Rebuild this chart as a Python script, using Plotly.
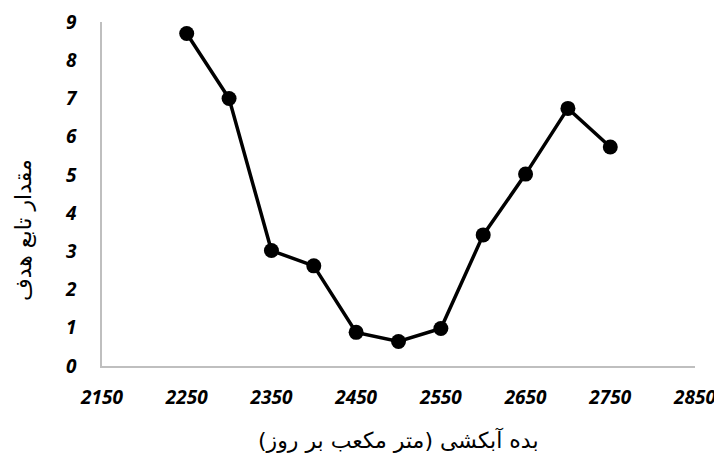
import plotly.graph_objects as go

flow = [2250, 2300, 2350, 2400, 2450, 2500, 2550, 2600, 2650, 2700, 2750]
objective = [8.70, 7.0, 3.02, 2.62, 0.88, 0.64, 0.98, 3.43, 5.02, 6.74, 5.73]
x_ticks = [2150, 2250, 2350, 2450, 2550, 2650, 2750, 2850]
y_ticks = [0, 1, 2, 3, 4, 5, 6, 7, 8, 9]
x_title = "بده آبکشی (متر مکعب بر روز)"
y_title = "مقدار تابع هدف"

tick_font = dict(family="Open Sans", size=19, color="black", weight="bold", style="italic")
title_font = dict(family="DejaVu Sans", size=22, color="black")

fig = go.Figure()
fig.add_trace(go.Scatter(
    x=flow, y=objective, mode="lines+markers",
    line=dict(color="black", width=3.5),
    marker=dict(color="black", size=15),
    showlegend=False,
))

fig.update_layout(
    width=722, height=457,
    margin=dict(l=94, r=35, t=14, b=99),
    paper_bgcolor="white", plot_bgcolor="white",
    annotations=[
        dict(text=x_title, xref="paper", yref="paper", x=0.5, y=0,
             xanchor="center", yanchor="middle", yshift=-74,
             showarrow=False, font=title_font),
        dict(text=y_title, xref="paper", yref="paper", x=0, y=0.395,
             xanchor="center", yanchor="middle", xshift=-79, textangle=-90,
             showarrow=False, font=title_font),
    ],
)
fig.update_xaxes(
    range=[2150, 2850], tickvals=x_ticks, ticktext=[str(v) for v in x_ticks],
    showgrid=False, zeroline=False, showline=True, linecolor="#bfbfbf", linewidth=1.5,
    tickfont=tick_font, ticks="", ticklabelstandoff=13,
    automargin=False,
)
fig.update_yaxes(
    range=[0, 9], tickvals=y_ticks, ticktext=[str(v) for v in y_ticks],
    showgrid=False, zeroline=False, showline=True, linecolor="#bfbfbf", linewidth=1.5,
    tickfont=tick_font, ticks="", ticklabelstandoff=20,
    automargin=False,
)

fig.write_html("out.html")
